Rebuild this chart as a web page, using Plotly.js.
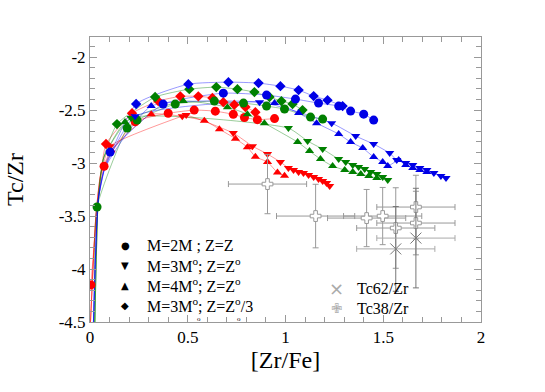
<!DOCTYPE html>
<html>
<head>
<meta charset="utf-8">
<script src="https://cdn.plot.ly/plotly-3.0.1.min.js"></script>
<style>
  html, body { margin: 0; padding: 0; background: white; }
  #graph { width: 545px; height: 392px; }
</style>
</head>
<body>
<div id="graph"></div>
<script>
// Model points ([Zr/Fe], Tc/Zr)
// red family
var redCircX = [0.005, 0.072, 0.231, 0.400, 0.533, 0.641, 0.733, 0.790, 0.856, 0.944];
var redCircY = [-4.15, -3.03, -2.61, -2.53, -2.50, -2.51, -2.54, -2.57, -2.59, -2.58];
var redDiamX = [0.082, 0.215, 0.349, 0.462, 0.554, 0.626, 0.682, 0.738, 0.795, 0.846];
var redDiamY = [-2.82, -2.53, -2.415, -2.37, -2.37, -2.385, -2.425, -2.45, -2.47, -2.52];
var redUpX = [0.108, 0.313, 0.585, 0.662, 0.744, 0.805, 0.846, 0.908, 0.959, 0.995];
var redUpY = [-2.88, -2.54, -2.60, -2.68, -2.77, -2.85, -2.94, -2.99, -3.09, -3.12];
var redDownX = [0.103, 0.472, 0.492, 0.733, 0.831, 0.908, 0.974, 1.015, 1.041, 1.067, 1.092, 1.118, 1.144, 1.169, 1.190, 1.210, 1.226];
var redDownY = [-2.84, -2.557, -2.547, -2.717, -2.84, -2.915, -2.99, -3.047, -3.066, -3.085, -3.094, -3.113, -3.132, -3.151, -3.17, -3.189, -3.217];

// green family
var greenCircX = [0.036, 0.190, 0.241, 0.436, 0.636, 0.785, 0.903, 0.995, 1.128, 1.190];
var greenCircY = [-3.415, -2.67, -2.594, -2.443, -2.415, -2.434, -2.462, -2.49, -2.566, -2.585];
var greenDiamX = [0.138, 0.333, 0.508, 0.646, 0.754, 0.841, 0.918, 0.979, 1.036, 1.087];
var greenDiamY = [-2.632, -2.377, -2.302, -2.283, -2.302, -2.33, -2.377, -2.415, -2.443, -2.50];
var greenUpX = [0.179, 0.477, 0.703, 0.805, 0.892, 1.062, 1.123, 1.179, 1.241, 1.303, 1.344, 1.385, 1.426, 1.467];
var greenUpY = [-2.613, -2.415, -2.472, -2.538, -2.623, -2.802, -2.887, -2.962, -3.028, -3.066, -3.085, -3.104, -3.123, -3.142];
var greenDownX = [0.210, 1.015, 1.113, 1.190, 1.272, 1.308, 1.344, 1.374, 1.405, 1.436, 1.467, 1.497, 1.523];
var greenDownY = [-2.575, -2.67, -2.792, -2.868, -2.962, -2.99, -3.019, -3.038, -3.057, -3.085, -3.104, -3.132, -3.16];

// blue family
var blueCircX = [0.103, 0.374, 0.682, 0.903, 1.051, 1.169, 1.272, 1.333, 1.400, 1.451];
var blueCircY = [-2.896, -2.443, -2.34, -2.358, -2.396, -2.434, -2.462, -2.509, -2.538, -2.594];
var blueDiamX = [0.236, 0.503, 0.708, 0.862, 0.974, 1.067, 1.144, 1.215, 1.292];
var blueDiamY = [-2.443, -2.255, -2.236, -2.245, -2.274, -2.311, -2.368, -2.406, -2.462];
var blueUpX = [0.313, 0.944, 1.067, 1.159, 1.272, 1.333, 1.395, 1.451, 1.497, 1.523, 1.579, 1.615, 1.651, 1.687, 1.723];
var blueUpY = [-2.462, -2.434, -2.528, -2.623, -2.726, -2.802, -2.858, -2.943, -2.99, -3.028, -2.972, -3.019, -3.047, -3.066, -3.085];
var blueDownX = [0.231, 0.867, 1.236, 1.359, 1.451, 1.533, 1.569, 1.615, 1.651, 1.687, 1.723, 1.759, 1.795, 1.821];
var blueDownY = [-2.557, -2.425, -2.623, -2.745, -2.821, -2.906, -2.972, -3.0, -3.019, -3.047, -3.066, -3.094, -3.123, -3.142];

// steep lead-in of the model curves, coming up from the bottom edge
var redLeadX = [0.0, 0.03, 0.055];
var redLeadY = [-4.6, -3.5, -3.1];
var greenLeadX = [0.024, 0.042, 0.07];
var greenLeadY = [-4.6, -3.35, -2.95];
var blueLeadX = [0.016, 0.042, 0.075];
var blueLeadY = [-4.6, -3.35, -3.05];

// observations
var tc38X = [0.908, 1.154, 1.415, 1.497, 1.564, 1.667, 1.667];
var tc38Y = [-3.198, -3.50, -3.519, -3.50, -3.613, -3.415, -3.566];
var tc38Xerr = [0.2, 0.2, 0.2, 0.2, 0.2, 0.2, 0.2];
var tc38Yerr = [0.28, 0.3, 0.27, 0.27, 0.38, 0.3, 0.3];
var tc62X = [1.564, 1.667];
var tc62Y = [-3.81, -3.708];
var tc62Xerr = [0.2, 0.2];
var tc62Yerr = [0.4, 0.47];

var legendLabels = [
    'M=2M ; Z=Z',
    'M=3M<sup>o</sup>; Z=Z<sup>o</sup>',
    'M=4M<sup>o</sup>; Z=Z<sup>o</sup>',
    'M=3M<sup>o</sup>; Z=Z<sup>o</sup>/3'
];
var legendGlyphs = ['\u25CF', '\u25BC', '\u25B2', '\u25C6'];
var obsLabels = ['Tc62/Zr', 'Tc38/Zr'];
var obsGlyphs = ['\u00D7', '\u2719'];

var xTickVals = [0, 0.5, 1, 1.5, 2];
var xTickText = ['0', '0.5', '1', '1.5', '2'];
var yTickVals = [-4.5, -4, -3.5, -3, -2.5, -2];
var yTickText = ['-4.5', '-4', '-3.5', '-3', '-2.5', '-2'];


var colors = {
    red: { mark: 'rgb(255,0,0)', line: 'rgba(255,0,0,0.4)' },
    green: { mark: 'rgb(0,128,0)', line: 'rgba(0,128,0,0.4)' },
    blue: { mark: 'rgb(0,0,230)', line: 'rgba(0,0,255,0.4)' }
};
var leads = {
    red: [redLeadX, redLeadY],
    green: [greenLeadX, greenLeadY],
    blue: [blueLeadX, blueLeadY]
};

var series = [
    ['red', 'circle', redCircX, redCircY],
    ['red', 'diamond', redDiamX, redDiamY],
    ['red', 'triangle-up', redUpX, redUpY],
    ['red', 'triangle-down', redDownX, redDownY],
    ['green', 'circle', greenCircX, greenCircY],
    ['green', 'diamond', greenDiamX, greenDiamY],
    ['green', 'triangle-up', greenUpX, greenUpY],
    ['green', 'triangle-down', greenDownX, greenDownY],
    ['blue', 'circle', blueCircX, blueCircY],
    ['blue', 'diamond', blueDiamX, blueDiamY],
    ['blue', 'triangle-up', blueUpX, blueUpY],
    ['blue', 'triangle-down', blueDownX, blueDownY]
];

var data = [];

// thin model curves first, so markers sit on top
series.forEach(function(s) {
    var c = s[0];
    var lx = [], ly = [];
    // only the lead-in points that lie before the first marker
    for (var i = 0; i < leads[c][0].length; i++) {
        if (leads[c][0][i] < s[2][0] - 0.01) {
            lx.push(leads[c][0][i]);
            ly.push(leads[c][1][i]);
        }
    }
    data.push({
        x: lx.concat(s[2]),
        y: ly.concat(s[3]),
        mode: 'lines',
        line: { color: colors[c].line, width: 1, shape: 'spline', smoothing: 0.5 },
        showlegend: false,
        hoverinfo: 'skip'
    });
});

series.forEach(function(s) {
    var c = s[0];
    data.push({
        x: s[2],
        y: s[3],
        mode: 'markers',
        marker: { symbol: s[1], color: colors[c].mark, size: s[1] == 'circle' ? 9 : 8 },
        showlegend: false
    });
});

// observations with error bars
data.push({
    x: tc38X, y: tc38Y,
    mode: 'markers',
    showlegend: false,
    marker: { symbol: 'cross', size: 9, color: 'white', line: { color: '#999', width: 1 } },
    error_x: { type: 'data', array: tc38Xerr, visible: true, color: '#999', thickness: 1, width: 3 },
    error_y: { type: 'data', array: tc38Yerr, visible: true, color: '#999', thickness: 1, width: 3 }
});
data.push({
    x: tc62X, y: tc62Y,
    mode: 'markers',
    showlegend: false,
    marker: { symbol: 'x-thin-open', size: 11, color: '#777', line: { color: '#777', width: 1 } },
    error_x: { type: 'data', array: tc62Xerr, visible: true, color: '#aaa', thickness: 1, width: 3 },
    error_y: { type: 'data', array: tc62Yerr, visible: true, color: '#777', thickness: 1, width: 3 }
});

// legends drawn as text (rows 20 px apart like the original)
var annotations = [];
function rowY(py) { return (322 - py) / 285; }
function colX(px) { return (px - 90) / 391; }

legendLabels.forEach(function(lab, i) {
    var y = rowY(245 + i * 20);
    annotations.push({ xref: 'paper', yref: 'paper', x: colX(125), y: y, text: legendGlyphs[i],
        showarrow: false, xanchor: 'center', yanchor: 'middle',
        font: { family: 'DejaVu Sans', size: 10, color: 'black' } });
    annotations.push({ xref: 'paper', yref: 'paper', x: colX(145), y: y, text: lab,
        showarrow: false, xanchor: 'left', yanchor: 'middle',
        font: { family: 'Liberation Serif', size: 16, color: 'black' } });
});
obsLabels.forEach(function(lab, i) {
    var y = rowY(288 + i * 20);
    annotations.push({ xref: 'paper', yref: 'paper', x: colX(336), y: y, text: obsGlyphs[i],
        showarrow: false, xanchor: 'center', yanchor: 'middle',
        font: { family: 'DejaVu Sans', size: i == 0 ? 18 : 13, color: '#aaa' } });
    annotations.push({ xref: 'paper', yref: 'paper', x: colX(355), y: y, text: lab,
        showarrow: false, xanchor: 'left', yanchor: 'middle',
        font: { family: 'Liberation Serif', size: 16, color: 'black' } });
});
// stray subscripts under the last legend row, as in the original
annotations.push({ xref: 'paper', yref: 'paper', x: colX(195), y: rowY(319), text: 'o',
    showarrow: false, yanchor: 'middle', font: { family: 'Liberation Serif', size: 7, color: 'black' } });
annotations.push({ xref: 'paper', yref: 'paper', x: colX(239), y: rowY(319), text: 'o',
    showarrow: false, yanchor: 'middle', font: { family: 'Liberation Serif', size: 7, color: 'black' } });

var axisCommon = {
    showgrid: false,
    zeroline: false,
    showline: true,
    linecolor: '#999',
    linewidth: 1,
    mirror: 'allticks',
    ticks: 'inside',
    ticklen: 7,
    tickcolor: '#999',
    tickfont: { family: 'Liberation Serif', size: 17, color: 'black' },
    tickmode: 'array'
};

var layout = {
    width: 545,
    height: 392,
    margin: { l: 90, r: 64, t: 37, b: 70 },
    paper_bgcolor: 'white',
    plot_bgcolor: 'white',
    showlegend: false,
    font: { family: 'Liberation Serif', color: 'black' },
    xaxis: Object.assign({}, axisCommon, {
        range: [0, 2],
        tickvals: xTickVals,
        ticktext: xTickText,
        minor: { tickmode: 'linear', tick0: 0, dtick: 0.1, ticks: 'inside', ticklen: 5, tickcolor: '#999' },
        title: { text: '[Zr/Fe]', font: { family: 'Liberation Serif', size: 24 }, standoff: 4 }
    }),
    yaxis: Object.assign({}, axisCommon, {
        range: [-4.5, -1.81],
        tickvals: yTickVals,
        ticktext: yTickText,
        minor: { tickmode: 'linear', tick0: -2, dtick: 0.1, ticks: 'inside', ticklen: 5, tickcolor: '#999' },
        title: { text: 'Tc/Zr', font: { family: 'Liberation Serif', size: 24 }, standoff: 28 }
    }),
    annotations: annotations
};

var config = {
    staticPlot: true
};

Plotly.newPlot('graph', data, layout, config);
</script>
</body>
</html>
